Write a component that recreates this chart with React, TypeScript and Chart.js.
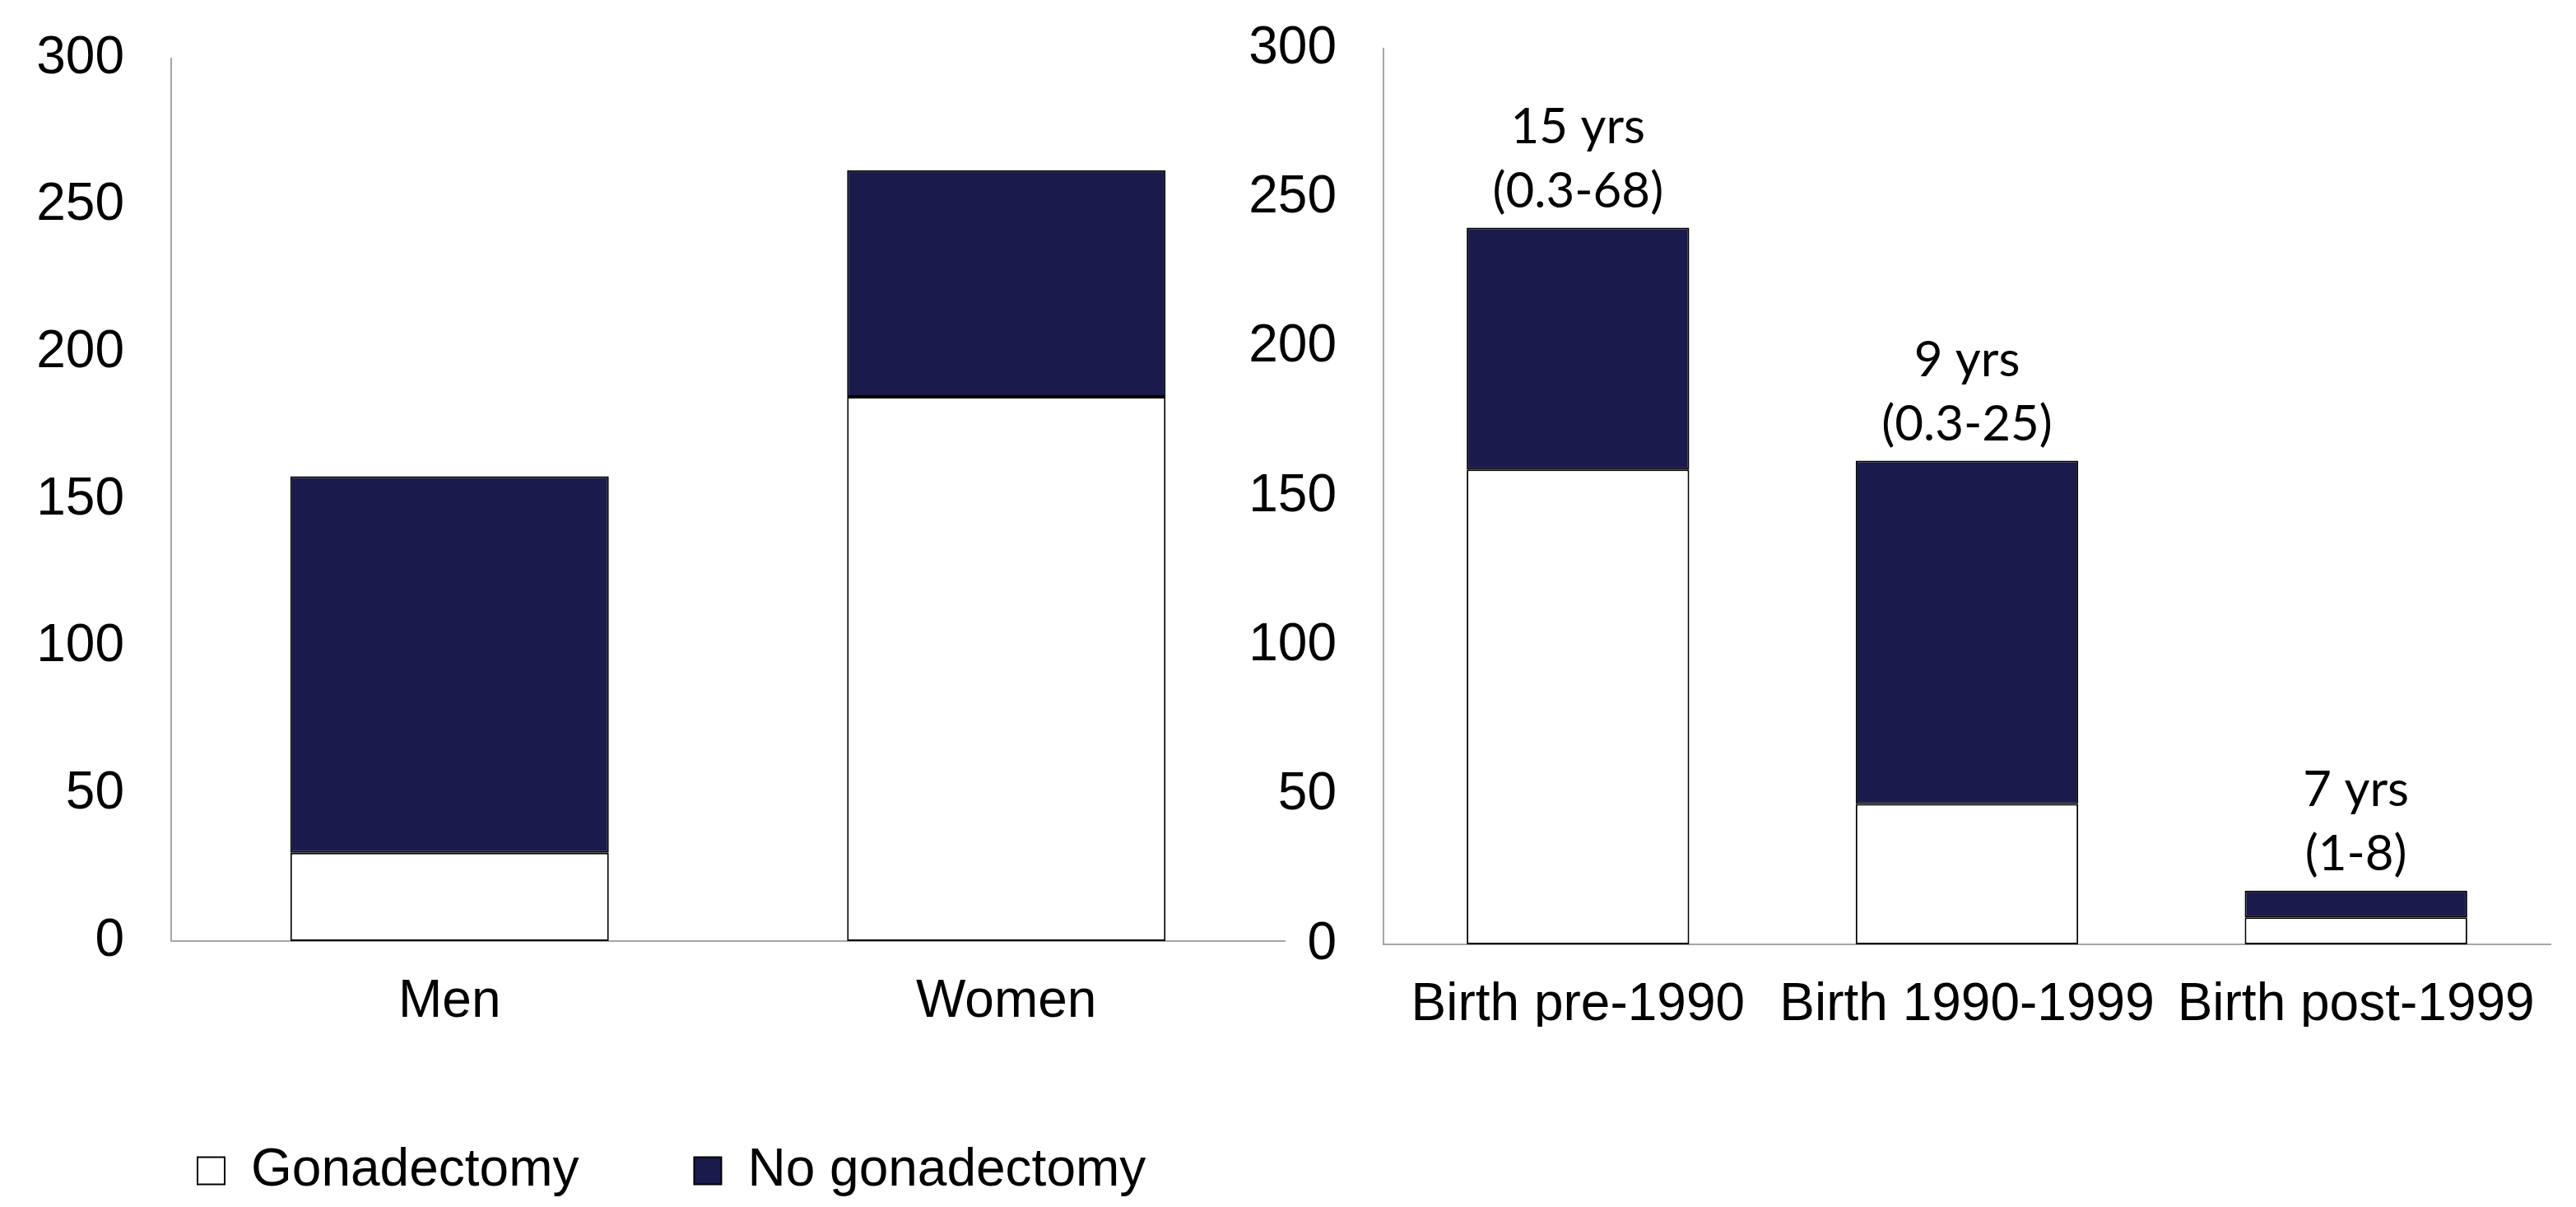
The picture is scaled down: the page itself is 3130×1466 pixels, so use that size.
import React, { useEffect, useRef } from "react";
import { Chart, registerables } from "chart.js";

Chart.register(...registerables);

// ---- Data ----
const sexCategories = ["Men", "Women"];
const sexGonadectomy = [30, 185];
const sexNoGonadectomy = [128, 77];

const birthCategories = ["Birth pre-1990", "Birth 1990-1999", "Birth post-1999"];
const birthGonadectomy = [159, 47, 9];
const birthNoGonadectomy = [81, 115, 9];
const birthAgeMedian = ["15 yrs", "9 yrs", "7 yrs"];
const birthAgeRange = ["(0.3-68)", "(0.3-25)", "(1-8)"];

const seriesLabels = ["Gonadectomy", "No gonadectomy"];
const yMin = 0;
const yMax = 300;
const yStep = 50;

const NAVY = "#1b1a4c";
const AXIS_GREY = "#a6a6a6";
const ARIAL = "'Liberation Sans', Arial, sans-serif";

function makeDatasets(gon: number[], nogon: number[]) {
  return [
    {
      label: seriesLabels[0],
      data: gon,
      backgroundColor: "#ffffff",
      borderColor: "#000000",
      borderWidth: 2,
      borderSkipped: false,
      categoryPercentage: 1,
      barPercentage: 0.572,
    },
    {
      label: seriesLabels[1],
      data: nogon,
      backgroundColor: NAVY,
      borderColor: "#000000",
      borderWidth: 2,
      borderSkipped: false,
      categoryPercentage: 1,
      barPercentage: 0.572,
    },
  ];
}

function scales(yWidth: number, xHeight: number) {
  return {
    x: {
      stacked: true,
      grid: { display: false, drawTicks: true, tickLength: 36, tickColor: "rgba(0,0,0,0)" },
      border: { display: true, color: AXIS_GREY, width: 2 },
      ticks: { color: "#000", font: { family: ARIAL, size: 64 }, padding: 0, maxRotation: 0, autoSkip: false },
      afterFit: (s: any) => {
        s.height = xHeight;
      },
    },
    y: {
      stacked: true,
      min: yMin,
      max: yMax,
      grid: { display: false, drawTicks: true, tickLength: 57, tickColor: "rgba(0,0,0,0)" },
      border: { display: true, color: AXIS_GREY, width: 2 },
      ticks: { stepSize: yStep, color: "#000", font: { family: ARIAL, size: 64 }, padding: 0 },
      afterFit: (s: any) => {
        s.width = yWidth;
      },
    },
  };
}

const annotationPlugin = {
  id: "ageAnnotations",
  afterDatasetsDraw(chart: any) {
    const meta = chart.getDatasetMeta(1);
    const ctx = chart.ctx;
    ctx.save();
    ctx.fillStyle = "#000";
    ctx.textAlign = "center";
    ctx.textBaseline = "middle";
    ctx.font = "60px Lato, 'Noto Sans', sans-serif";
    meta.data.forEach((bar: any, i: number) => {
      const x = bar.x;
      const top = bar.y;
      ctx.fillText(birthAgeMedian[i], x, top - 122);
      ctx.fillText(birthAgeRange[i], x, top - 44);
    });
    ctx.restore();
  },
};

const legendShift = {
  id: "legendShift",
  afterLayout(chart: any) {
    if (chart.legend) {
      chart.legend.left = 100;
    }
  },
};

export default function App() {
  const leftRef = useRef<HTMLCanvasElement>(null);
  const rightRef = useRef<HTMLCanvasElement>(null);

  useEffect(() => {
    document.body.style.margin = "0";
    const left = new Chart(leftRef.current!, {
      type: "bar",
      data: { labels: sexCategories, datasets: makeDatasets(sexGonadectomy, sexNoGonadectomy) as any },
      options: {
        responsive: false,
        animation: false,
        devicePixelRatio: 1,
        layout: { padding: { left: 0, right: 9, top: 71, bottom: 2 } },
        scales: scales(208, 107) as any,
        plugins: {
          tooltip: { enabled: false },
          legend: {
            display: true,
            position: "bottom",
            align: "start",
            labels: {
              color: "#000",
              font: { family: ARIAL, size: 64 },
              boxWidth: 33,
              boxHeight: 33,
              padding: 140,
            },
          },
        },
      },
      plugins: [legendShift],
    });
    const right = new Chart(rightRef.current!, {
      type: "bar",
      data: { labels: birthCategories, datasets: makeDatasets(birthGonadectomy, birthNoGonadectomy) as any },
      options: {
        responsive: false,
        animation: false,
        devicePixelRatio: 1,
        layout: { padding: { left: 0, right: 31, top: 59, bottom: 219 } },
        scales: scales(231, 100) as any,
        plugins: {
          tooltip: { enabled: false },
          legend: { display: false },
        },
      },
      plugins: [annotationPlugin],
    });
    return () => {
      left.destroy();
      right.destroy();
    };
  }, []);

  return (
    <div style={{ position: "fixed", left: 0, top: 0, width: 3130, height: 1466, background: "#fff", overflow: "hidden" }}>
      <canvas ref={leftRef} width={1570} height={1466} style={{ position: "absolute", left: 0, top: 0, width: 1570, height: 1466 }} />
      <canvas ref={rightRef} width={1680} height={1466} style={{ position: "absolute", left: 1450, top: 0, width: 1680, height: 1466 }} />
    </div>
  );
}
